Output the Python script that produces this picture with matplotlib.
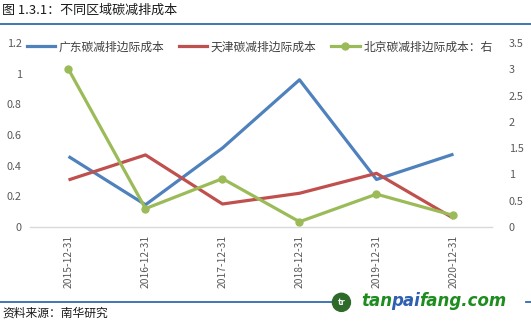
import matplotlib
matplotlib.use('Agg')
import matplotlib.pyplot as plt
from matplotlib.lines import Line2D
from matplotlib.patches import Ellipse
import numpy as np

plt.rcParams['font.family'] = ['Noto Sans CJK SC', 'DejaVu Sans']
plt.rcParams['axes.unicode_minus'] = False

# 数据
dates = ['2015-12-31', '2016-12-31', '2017-12-31', '2018-12-31', '2019-12-31', '2020-12-31']
guangdong = [0.46, 0.145, 0.515, 0.96, 0.31, 0.475]
tianjin = [0.307, 0.47, 0.15, 0.22, 0.35, 0.057]
beijing = [3.0, 0.35, 0.92, 0.10, 0.625, 0.22]

left_ticks = [0, 0.2, 0.4, 0.6, 0.8, 1, 1.2]
right_ticks = [0, 0.5, 1, 1.5, 2, 2.5, 3, 3.5]

c_gd = '#4F81BD'
c_tj = '#C0504D'
c_bj = '#9BBB59'
c_tick = '#595959'

fig = plt.figure(figsize=(5.31, 3.23), dpi=100)
ax = fig.add_axes([0.0565, 0.2972, 0.87, 0.5697])
ax2 = ax.twinx()

x = np.arange(len(dates))
ax.plot(x, guangdong, color=c_gd, lw=2.3, solid_capstyle='butt', solid_joinstyle='round')
ax.plot(x, tianjin, color=c_tj, lw=2.3, solid_capstyle='butt', solid_joinstyle='round')
ax2.plot(x, beijing, color=c_bj, lw=2.3, marker='o', ms=5, solid_joinstyle='round')

ax.set_xlim(-0.5, len(dates) - 0.5)
ax.set_ylim(0, 1.2)
ax2.set_ylim(0, 3.5)
ax.set_yticks(left_ticks)
ax.set_yticklabels(['0', '0.2', '0.4', '0.6', '0.8', '1', '1.2'])
ax2.set_yticks(right_ticks)
ax2.set_yticklabels(['0', '0.5', '1', '1.5', '2', '2.5', '3', '3.5'])
ax.set_xticks(x)
ax.set_xticklabels(dates, rotation=90)

for a in (ax, ax2):
    for s in a.spines.values():
        s.set_visible(False)
    a.tick_params(length=0, labelsize=7.8, colors=c_tick)
ax.spines['bottom'].set_visible(True)
ax.spines['bottom'].set_color('#D9D9D9')
ax.spines['bottom'].set_linewidth(1)
ax.tick_params(axis='y', pad=6)
ax2.tick_params(axis='y', pad=12)
ax.tick_params(axis='x', pad=6, labelsize=7.4)

# 图例
handles = [
    Line2D([], [], color=c_gd, lw=2.3),
    Line2D([], [], color=c_tj, lw=2.3),
    Line2D([], [], color=c_bj, lw=2.3, marker='o', ms=5),
]
labels = ['广东碳减排边际成本', '天津碳减排边际成本', '北京碳减排边际成本：右']
fig.legend(handles, labels, loc='center left', bbox_to_anchor=(0.030, 0.855),
           ncol=3, frameon=False, fontsize=8.5, handlelength=2.4, handletextpad=0.3,
           columnspacing=1.25, labelcolor='#404040')

# 标题与来源
fig.text(0.004, 0.967, '图 1.3.1：不同区域碳减排成本', fontsize=9.4, color='#1a1a1a', va='center')
fig.add_artist(Line2D([0, 1], [0.926, 0.926], color='#1F5FA8', lw=1.2, transform=fig.transFigure))
fig.add_artist(Line2D([0, 1], [0.065, 0.065], color='#1F5FA8', lw=1.2, transform=fig.transFigure))
fig.text(0.004, 0.031, '资料来源：南华研究', fontsize=8.5, color='#1a1a1a', va='center')

# 水印
wm_y = 0.068
fig.patches.append(Ellipse((0.643, 0.064), 0.034, 0.056, transform=fig.transFigure,
                           color='#2E6B2A', zorder=5))
fig.text(0.643, 0.064, 'tr', fontsize=6.5, color='white', fontweight='bold',
         ha='center', va='center', zorder=6)
fig.add_artist(Line2D([0.665, 0.985], [0.065, 0.065], color='white', lw=3,
                      transform=fig.transFigure, zorder=4))
wm_style = dict(fontsize=12, fontweight='bold', style='italic', va='center',
                family='DejaVu Sans', zorder=6)
fig.canvas.draw()
renderer = fig.canvas.get_renderer()
xpos = 0.68
for part, col in [('tan', '#1E8C1E'), ('pai', '#2F5FB0'), ('fang.com', '#1E8C1E')]:
    t = fig.text(xpos, wm_y, part, color=col, **wm_style)
    bb = t.get_window_extent(renderer=renderer)
    xpos = fig.transFigure.inverted().transform((bb.x1, 0))[0] - 0.002

fig.savefig('out.png', dpi=100)
